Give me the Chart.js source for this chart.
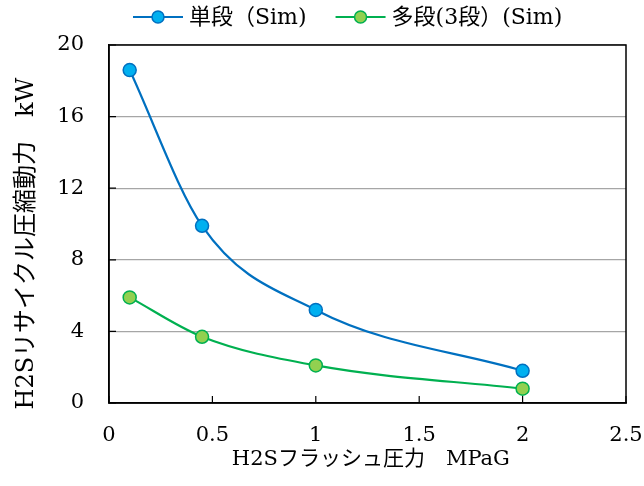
<!DOCTYPE html>
<html>
<head>
<meta charset="utf-8">
<script src="https://cdn.jsdelivr.net/npm/chart.js@4.4.0/dist/chart.umd.min.js"></script>
<style>
  body { margin: 0; background: #fff; }
  #wrap { width: 644px; height: 486px; position: relative; }
</style>
</head>
<body>
<div id="wrap"><canvas id="chart"></canvas></div>
<script>
// データ
const pressure = [0.1, 0.45, 1, 2];            // H2Sフラッシュ圧力 MPaG
const singleStage = [18.6, 9.9, 5.2, 1.8];     // 単段
const multiStage = [5.9, 3.7, 2.1, 0.8];       // 多段(3段)
const seriesNames = ["単段（Sim)", "多段(3段）(Sim)"];
const xTitle = " H2Sフラッシュ圧力　MPaG";
const yTitle = "H2Sリサイクル圧縮動力　kW　  ";

const FONT = "'DejaVu Serif', 'Liberation Serif', 'Noto Sans CJK JP', serif";
const blue = { line: "#0070C0", fill: "#00B0F0" };
const green = { line: "#00B050", fill: "#92D050" };

function toPoints(xs, ys) {
  return xs.map((x, i) => ({ x: x, y: ys[i] }));
}

// 枠線・内向き目盛り・凡例
const framePlugin = {
  id: "frame",
  afterDraw(chart) {
    const ctx = chart.ctx;
    const a = chart.chartArea;
    const xs = chart.scales.x, ys = chart.scales.y;
    ctx.save();
    ctx.strokeStyle = "#000";
    ctx.lineWidth = 1.5;
    ctx.strokeRect(a.left, a.top, a.right - a.left, a.bottom - a.top);
    ctx.lineWidth = 1.2;
    ctx.beginPath();
    xs.ticks.forEach(t => {
      const px = xs.getPixelForValue(t.value);
      ctx.moveTo(px, a.bottom);
      ctx.lineTo(px, a.bottom - 7);
    });
    ys.ticks.forEach(t => {
      const py = ys.getPixelForValue(t.value);
      ctx.moveTo(a.left, py);
      ctx.lineTo(a.left + 7, py);
    });
    ctx.stroke();

    // 凡例
    ctx.font = "22px " + FONT;
    ctx.textBaseline = "middle";
    let x = 133;
    const y = 17;
    chart.data.datasets.forEach(ds => {
      ctx.strokeStyle = ds.borderColor;
      ctx.lineWidth = 2.2;
      ctx.beginPath();
      ctx.moveTo(x, y);
      ctx.lineTo(x + 50, y);
      ctx.stroke();
      ctx.beginPath();
      ctx.arc(x + 25, y, 6, 0, Math.PI * 2);
      ctx.fillStyle = ds.pointBackgroundColor;
      ctx.fill();
      ctx.lineWidth = 1.5;
      ctx.strokeStyle = ds.pointBorderColor;
      ctx.stroke();
      ctx.fillStyle = "#000";
      ctx.fillText(ds.label, x + 56, y + 1);
      x += 56 + ctx.measureText(ds.label).width + 29;
    });
    ctx.restore();
  }
};

new Chart(document.getElementById("chart"), {
  type: "line",
  data: {
    datasets: [
      {
        label: seriesNames[0],
        data: toPoints(pressure, singleStage),
        borderColor: blue.line,
        backgroundColor: blue.fill,
        pointBackgroundColor: blue.fill,
        pointBorderColor: blue.line,
        borderWidth: 2.2,
        pointRadius: 6.5,
        pointBorderWidth: 1.5,
        tension: 0.4,
        cubicInterpolationMode: "monotone"
      },
      {
        label: seriesNames[1],
        data: toPoints(pressure, multiStage),
        borderColor: green.line,
        backgroundColor: green.fill,
        pointBackgroundColor: green.fill,
        pointBorderColor: green.line,
        borderWidth: 2.2,
        pointRadius: 6.5,
        pointBorderWidth: 1.5,
        tension: 0.4,
        cubicInterpolationMode: "monotone"
      }
    ]
  },
  options: {
    responsive: true,
    maintainAspectRatio: false,
    animation: false,
    layout: { padding: { top: 45, right: 0, left: 0, bottom: 0 } },
    plugins: { legend: { display: false }, tooltip: { enabled: false } },
    scales: {
      x: {
        type: "linear",
        min: 0,
        max: 2.5,
        ticks: {
          stepSize: 0.5, color: "#000", font: { family: FONT, size: 21 }, padding: 20, maxRotation: 0,
          callback: v => String(v)
        },
        grid: { drawOnChartArea: false, drawTicks: false },
        border: { color: "#000", width: 1.5 },
        title: { display: true, text: xTitle, color: "#000", font: { family: FONT, size: 21 }, padding: { top: 0, bottom: 14 } },
        afterFit(scale) {
          scale.height = 83;
          scale.paddingRight = 18;
        }
      },
      y: {
        min: 0,
        max: 20,
        ticks: { stepSize: 4, color: "#000", font: { family: FONT, size: 21 }, padding: 25 },
        grid: { color: "#A6A6A6", lineWidth: 1.2, drawTicks: false },
        border: { color: "#000", width: 1.5 },
        title: { display: true, text: yTitle, color: "#000", font: { family: FONT, size: 24 }, padding: { top: 12, bottom: 0 } },
        afterFit(scale) { scale.width = 109; }
      }
    }
  },
  plugins: [framePlugin]
});
</script>
</body>
</html>
